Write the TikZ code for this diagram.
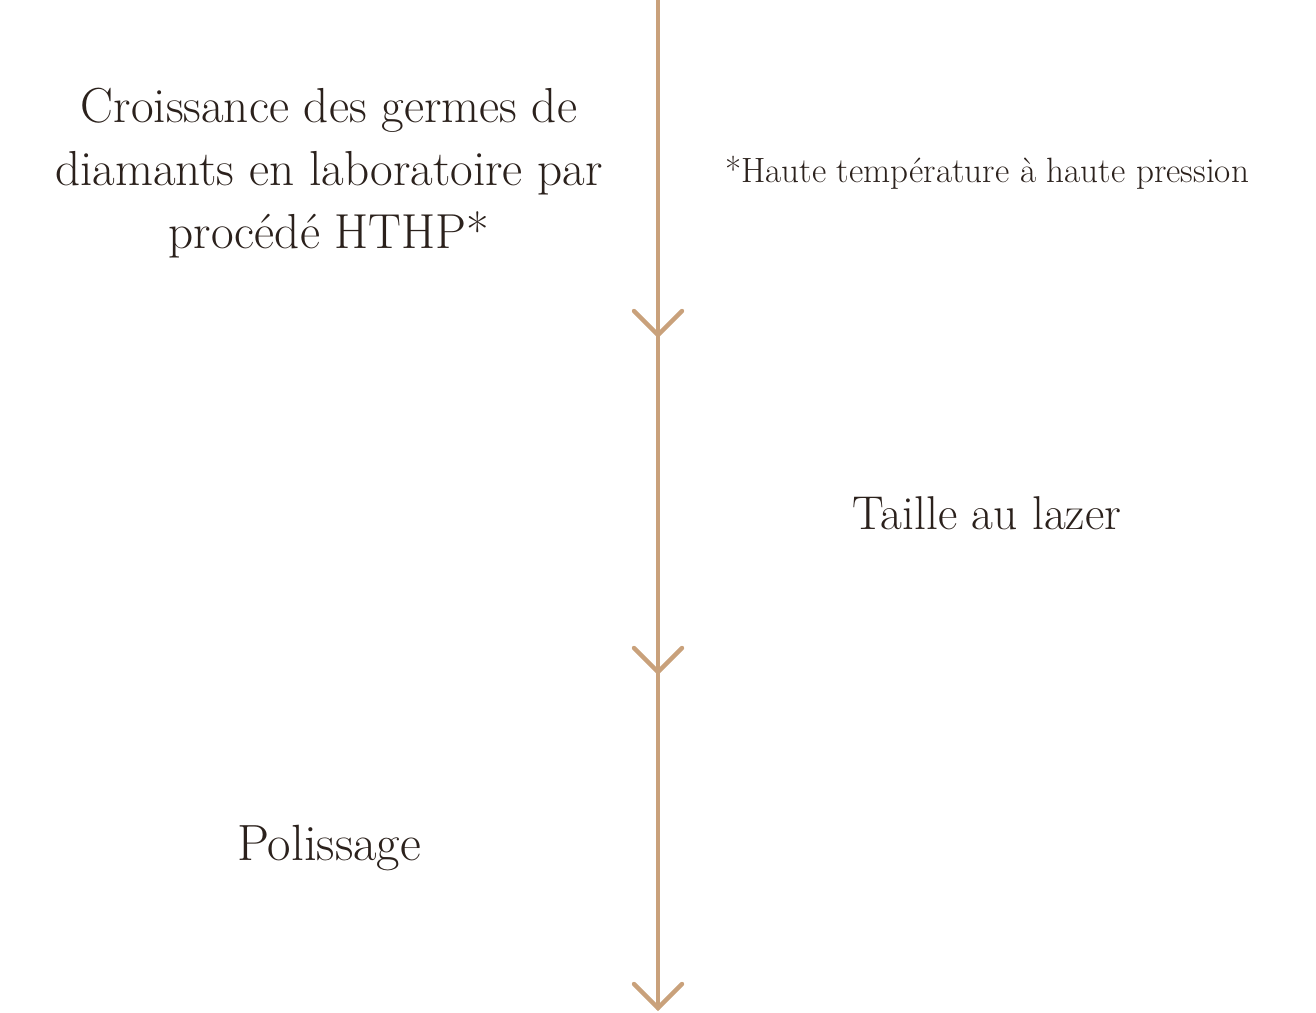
\documentclass[tikz,border=0pt]{standalone}
\usepackage{tikz}
\usetikzlibrary{positioning}
\definecolor{tan}{HTML}{C9A17B}
\definecolor{ink}{HTML}{2B211C}
\begin{document}
\begin{tikzpicture}[x=0.02cm,y=-0.02cm]
 \tikzset{step text/.style={text=ink,align=center,inner sep=0pt},
          timeline/.style={draw=tan,line width=2.5pt,line cap=round}}
 \useasboundingbox (0,0) rectangle (1316,1012);

 %Coordinates
 \coordinate (top) at (658,0);
 \coordinate (bottom) at (658,1008);

 %Name
 \node (growth) [step text,font=\fontsize{28}{36}\selectfont] at (329,173) {Croissance des germes de\\diamants en laboratoire par\\proc\'ed\'e HTHP*};
 \node (hthp) [step text,font=\fontsize{20}{24}\selectfont] at (987,173) {*Haute temp\'erature \`a haute pression};
 \node (laser) [step text,font=\fontsize{27}{32}\selectfont] at (987,513) {Taille au lazer};
 \node (polish) [step text,font=\fontsize{29}{32}\selectfont] at (329,848) {Polissage};

 %Axis
 \draw[timeline] (top) -- (bottom);

 %Chevrons
 \foreach \y in {335,672,1008}
 \draw[timeline] (634,\y-24) -- (658,\y) -- (682,\y-24);

\end{tikzpicture}
\end{document}
